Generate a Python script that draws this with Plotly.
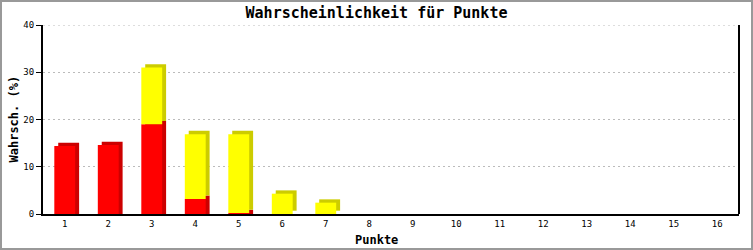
import numpy as np
import plotly.graph_objects as go

punkte = list(range(1, 17))
rot = [14.4, 14.6, 19.0, 3.2, 0.2, 0, 0, 0, 0, 0, 0, 0, 0, 0, 0, 0]
gelb = [0, 0, 12.0, 13.7, 16.7, 4.3, 2.4, 0, 0, 0, 0, 0, 0, 0, 0, 0]

title = "Wahrscheinlichkeit für Punkte"
xtitle = "Punkte"
ytitle = "Wahrsch. (%)"
ymax = 40

W, H = 753, 250
ML, MR, MT, MB = 43, 14, 25, 36
PW, PH = W - ML - MR, H - MT - MB

bw = 0.48
dx = 0.09
dy = 0.7

r = np.array(rot, dtype=float)
g = np.array(gelb, dtype=float)
r_sh = np.where(r > 0, r + dy, 0)
g_sh = np.where(g > 0, g, 0)
g_base_sh = np.where(r > 0, r + dy, dy)

fig = go.Figure()
# 3D side/top faces
fig.add_bar(x=punkte, y=r_sh, base=0, width=bw, offset=-bw/2 + dx,
            marker=dict(color="#cc0000", line=dict(width=0)), hoverinfo="skip")
fig.add_bar(x=punkte, y=g_sh, base=g_base_sh, width=bw, offset=-bw/2 + dx,
            marker=dict(color="#cccc00", line=dict(width=0)), hoverinfo="skip")
# front faces
fig.add_bar(x=punkte, y=r, base=0, width=bw, offset=-bw/2,
            marker=dict(color="#ff0000", line=dict(width=0)), hoverinfo="skip")
fig.add_bar(x=punkte, y=g, base=r, width=bw, offset=-bw/2,
            marker=dict(color="#ffff00", line=dict(width=0)), hoverinfo="skip")

mono = "DejaVu Sans Mono"
fig.update_layout(
    width=W, height=H, barmode="overlay", showlegend=False,
    margin=dict(l=ML, r=MR, t=MT, b=MB, pad=0, autoexpand=False),
    paper_bgcolor="white", plot_bgcolor="white",
    title=dict(text="<b>" + title + "</b>", x=0.5, xanchor="center",
               y=1 - 13 / H, yanchor="middle",
               font=dict(family=mono, size=15, color="black")),
    xaxis=dict(range=[0.5, 16.5], tickmode="array", tickvals=punkte,
               ticktext=[str(p) for p in punkte], showgrid=False, zeroline=False,
               showline=True, linecolor="black", linewidth=2, ticks="",
               automargin=False,
               tickfont=dict(family=mono, size=9, color="black")),
    yaxis=dict(range=[0, ymax], dtick=10, showgrid=True, gridcolor="#bbbbbb",
               griddash="2px,3px", gridwidth=1, zeroline=False,
               showline=True, linecolor="black", linewidth=2,
               ticks="outside", ticklen=5, tickcolor="black", tickwidth=1,
               automargin=False,
               tickfont=dict(family=mono, size=9, color="black")),
    hovermode=False,
)

# axis titles as annotations at fixed positions
fig.add_annotation(text="<b>" + xtitle + "</b>", xref="paper", yref="paper",
                   x=0.5 + (376 - (ML + PW / 2)) / PW, y=-(240 - (MT + PH)) / PH,
                   xanchor="center", yanchor="middle", showarrow=False,
                   font=dict(family=mono, size=12, color="black"))
fig.add_annotation(text="<b>" + ytitle + "</b>", xref="paper", yref="paper",
                   x=-(ML - 13) / PW, y=0.5, textangle=-90,
                   xanchor="center", yanchor="middle", showarrow=False,
                   font=dict(family=mono, size=12, color="black"))

# top dotted grid line at the axis maximum
fig.add_shape(type="line", xref="paper", yref="y", x0=0, x1=1, y0=ymax, y1=ymax,
              line=dict(color="#bbbbbb", width=1, dash="2px,3px"), layer="below")
# right plot frame line
fig.add_shape(type="line", xref="paper", yref="paper", x0=1, x1=1, y0=0, y1=1,
              line=dict(color="black", width=2))
# outer image border
fig.add_shape(type="rect", xref="paper", yref="paper",
              x0=-(ML - 1) / PW, x1=1 + (MR - 1) / PW,
              y0=-(MB - 1) / PH, y1=1 + (MT - 1) / PH,
              line=dict(color="#999999", width=2), fillcolor="rgba(0,0,0,0)")

fig.write_html("out.html", config={"displayModeBar": False})
